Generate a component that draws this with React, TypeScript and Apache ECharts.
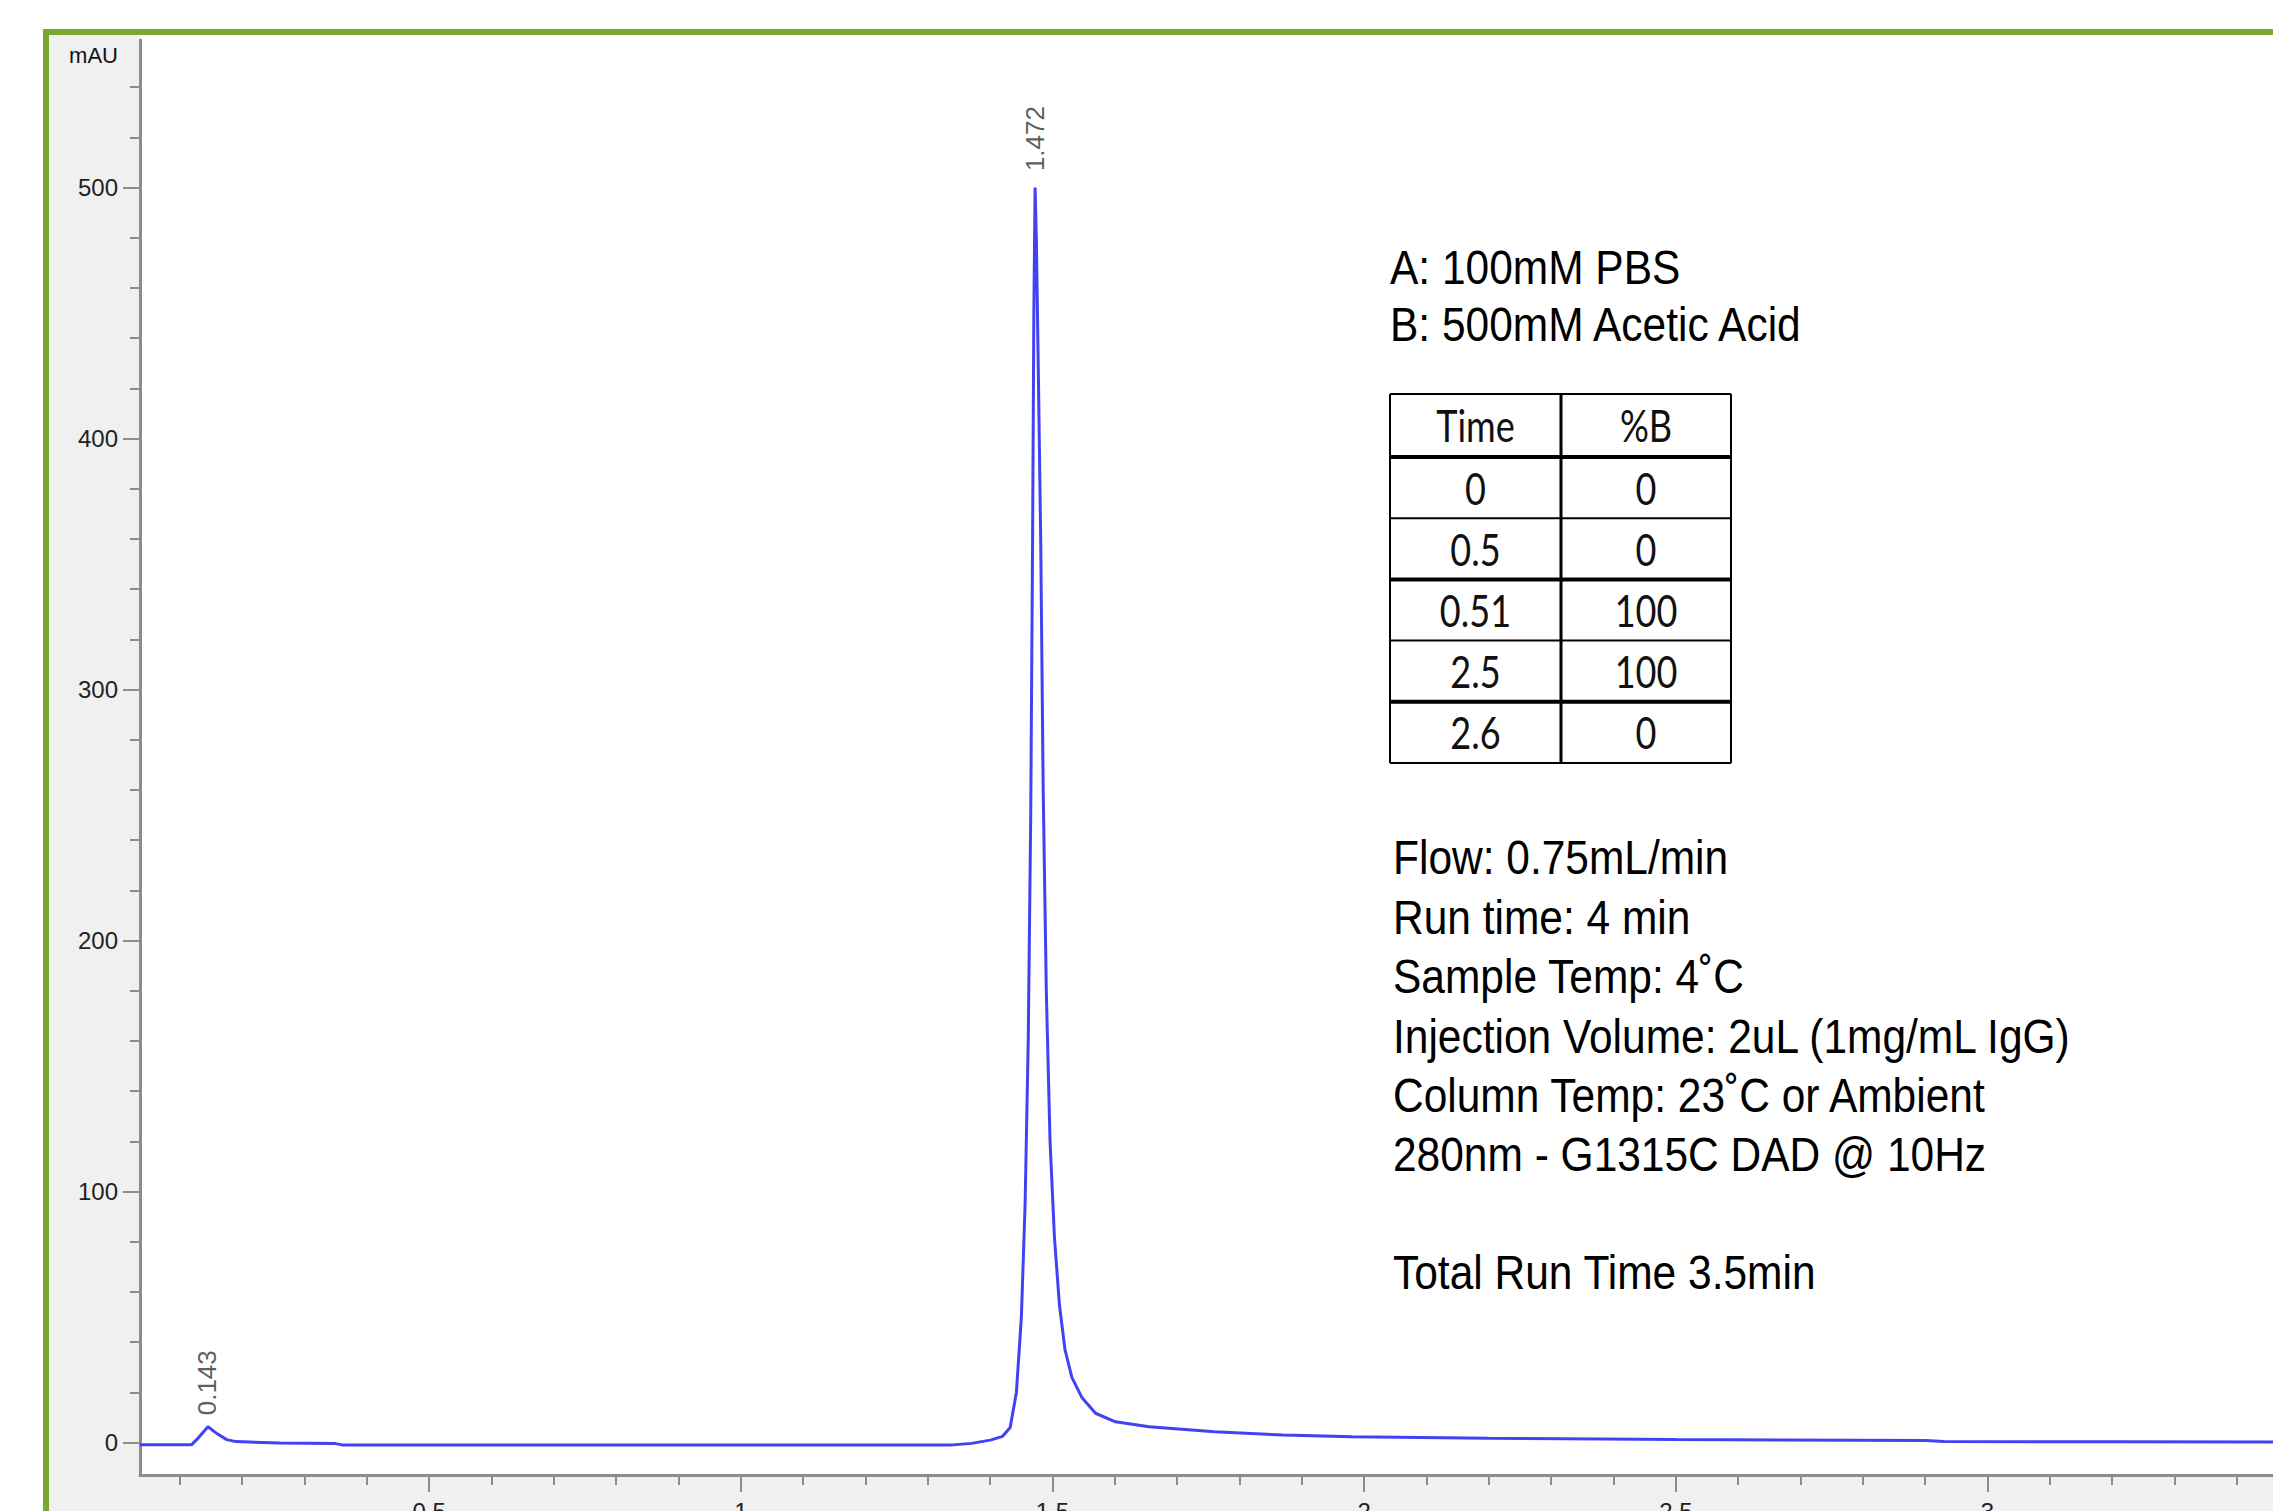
import React, { useEffect, useRef } from "react";
import * as echarts from "echarts";

// Chromatogram trace (time in min, absorbance in mAU)
const time = [
  0.036, 0.1, 0.119, 0.13, 0.145, 0.16, 0.175, 0.19, 0.26, 0.35, 0.36, 0.8, 1.2, 1.34, 1.37, 1.4, 1.42,
  1.432, 1.442, 1.45, 1.456, 1.461, 1.465, 1.468, 1.47, 1.472, 1.474, 1.477, 1.481, 1.485, 1.49, 1.496,
  1.503, 1.511, 1.52, 1.531, 1.547, 1.569, 1.601, 1.655, 1.76, 1.87, 1.98, 2.2, 2.5, 2.9, 2.93, 3.2, 3.458,
];
const absorbance = [
  -0.8, -0.8, -0.8, 2.0, 6.3, 3.5, 1.2, 0.4, -0.2, -0.4, -0.9, -0.9, -0.9, -0.9, -0.3, 1.0, 2.5,
  6, 20, 50, 95, 160, 250, 360, 450, 500, 480, 430, 360, 260, 180, 120,
  82, 55, 37, 26, 18, 11.7, 8.3, 6.3, 4.3, 3.0, 2.3, 1.7, 1.2, 0.8, 0.4, 0.3, 0.2,
];

// Peak annotations
const peakTimes = [0.143, 1.472];
const peakHeights = [6.3, 500];
const peakLabels = ["0.143", "1.472"];

// Axis ticks
const xMajorTicks = [0.5, 1, 1.5, 2, 2.5, 3];
const xTickLabels = ["0.5", "1", "1.5", "2", "2.5", "3"];
const xMinorTicks = [
  0.1, 0.2, 0.3, 0.4, 0.5, 0.6, 0.7, 0.8, 0.9, 1.0, 1.1, 1.2, 1.3, 1.4, 1.5, 1.6, 1.7,
  1.8, 1.9, 2.0, 2.1, 2.2, 2.3, 2.4, 2.5, 2.6, 2.7, 2.8, 2.9, 3.0, 3.1, 3.2, 3.3, 3.4,
];
const yMajorTicks = [0, 100, 200, 300, 400, 500];
const yMinorTicks = [
  0, 20, 40, 60, 80, 100, 120, 140, 160, 180, 200, 220, 240, 260, 280, 300, 320, 340, 360, 380,
  400, 420, 440, 460, 480, 500, 520, 540,
];

// Method annotations
const solventLines = ["A: 100mM PBS", "B: 500mM Acetic Acid"];
const gradientHeader = ["Time", "%B"];
const gradientTime = ["0", "0.5", "0.51", "2.5", "2.6"];
const gradientB = ["0", "0", "100", "100", "0"];
const methodLines = [
  "Flow: 0.75mL/min",
  "Run time: 4 min",
  "Sample Temp: 4˚C",
  "Injection Volume: 2uL (1mg/mL IgG)",
  "Column Temp: 23˚C or Ambient",
  "280nm - G1315C DAD @ 10Hz",
];
const totalRunLine = "Total Run Time 3.5min";

const SANS = "'Liberation Sans', Arial, sans-serif";
const TABLE_FONT = "Lato, 'Noto Sans', sans-serif";
const AXIS_GRAY = "#8c8c8c";

export default function App() {
  const ref = useRef<HTMLDivElement>(null);

  useEffect(() => {
    if (!ref.current) return;
    const chart = echarts.init(ref.current, undefined, { renderer: "svg" });

    const graphics: any[] = [];
    // background panel and plot area
    graphics.push({
      type: "rect",
      z: -10,
      shape: { x: 49, y: 35, width: 2300, height: 1500 },
      style: { fill: "#f0f0f0" },
      silent: true,
    });
    graphics.push({
      type: "rect",
      z: -9,
      shape: { x: 140, y: 35, width: 2200, height: 1440 },
      style: { fill: "#ffffff" },
      silent: true,
    });
    // green frame
    graphics.push({
      type: "rect",
      z: 50,
      shape: { x: 46, y: 32, width: 2400, height: 1600 },
      style: { fill: "none", stroke: "#7aa82a", lineWidth: 6 },
      silent: true,
    });

    const textX = 1390;
    const txtScale = 0.885;
    solventLines.forEach((s, i) => {
      graphics.push({
        type: "text",
        z: 20,
        x: textX,
        y: 268 + i * 57,
        scaleX: txtScale,
        style: {
          text: s,
          fontSize: 48,
          fontFamily: SANS,
          fill: "#000",
          align: "left",
          verticalAlign: "middle",
        },
      });
    });

    // gradient table
    const tLeft = 1390;
    const tMid = 1561;
    const tRight = 1731;
    const tTop = 394;
    const headerH = 63;
    const rowH = 61.2;
    const rowYs: number[] = [tTop, tTop + headerH];
    for (let i = 1; i <= gradientTime.length; i++) rowYs.push(tTop + headerH + i * rowH);
    const tBottom = rowYs[rowYs.length - 1];
    const thick = [1, 3, 5];
    rowYs.forEach((y, i) => {
      graphics.push({
        type: "line",
        z: 20,
        shape: { x1: tLeft, y1: y, x2: tRight, y2: y },
        style: { stroke: "#000", lineWidth: thick.includes(i) ? 4 : 2 },
      });
    });
    [tLeft, tMid, tRight].forEach((x, i) => {
      graphics.push({
        type: "line",
        z: 20,
        shape: { x1: x, y1: tTop, x2: x, y2: tBottom },
        style: { stroke: "#000", lineWidth: i === 1 ? 3 : 2 },
      });
    });
    const cellText = (text: string, cx: number, cy: number) => ({
      type: "text",
      z: 21,
      x: cx,
      y: cy,
      scaleX: 0.82,
      style: {
        text,
        fontSize: 44,
        fontFamily: TABLE_FONT,
        fill: "#111",
        align: "center",
        verticalAlign: "middle",
      },
    });
    const c1 = (tLeft + tMid) / 2;
    const c2 = (tMid + tRight) / 2;
    graphics.push(cellText(gradientHeader[0], c1, (rowYs[0] + rowYs[1]) / 2));
    graphics.push(cellText(gradientHeader[1], c2, (rowYs[0] + rowYs[1]) / 2));
    gradientTime.forEach((t, i) => {
      const cy = (rowYs[i + 1] + rowYs[i + 2]) / 2;
      graphics.push(cellText(t, c1, cy));
      graphics.push(cellText(gradientB[i], c2, cy));
    });

    methodLines.forEach((s, i) => {
      graphics.push({
        type: "text",
        z: 20,
        x: 1393,
        y: 858 + i * 59.4,
        scaleX: txtScale,
        style: {
          text: s,
          fontSize: 48,
          fontFamily: SANS,
          fill: "#000",
          align: "left",
          verticalAlign: "middle",
        },
      });
    });
    graphics.push({
      type: "text",
      z: 20,
      x: 1393,
      y: 1273,
      scaleX: txtScale,
      style: {
        text: totalRunLine,
        fontSize: 48,
        fontFamily: SANS,
        fill: "#000",
        align: "left",
        verticalAlign: "middle",
      },
    });

    const xMin = 0.036;
    const xMax = 3.458;
    const yMin = -12.9;
    const yMax = 558.8;

    const option: any = {
      animation: false,
      backgroundColor: "#ffffff",
      grid: {
        left: 140,
        right: 0,
        top: 40,
        bottom: 36,
        containLabel: false,
        outerBoundsMode: "none",
      },
      xAxis: [
        {
          type: "value",
          min: xMin,
          max: xMax,
          position: "bottom",
          axisLine: { show: true, onZero: false, lineStyle: { color: AXIS_GRAY, width: 3 } },
          axisTick: {
            show: true,
            customValues: xMinorTicks,
            length: 10,
            lineStyle: { color: AXIS_GRAY, width: 2 },
          },
          axisLabel: { show: false },
          splitLine: { show: false },
        },
        {
          type: "value",
          min: xMin,
          max: xMax,
          position: "bottom",
          axisLine: { show: false, onZero: false },
          axisTick: {
            show: true,
            customValues: xMajorTicks,
            length: 17,
            lineStyle: { color: AXIS_GRAY, width: 2 },
          },
          axisLabel: {
            show: true,
            customValues: xMajorTicks,
            formatter: (v: number) => xTickLabels[xMajorTicks.indexOf(v)] ?? String(v),
            fontSize: 24,
            fontFamily: SANS,
            color: "#222",
            margin: 24,
          },
          splitLine: { show: false },
        },
      ],
      yAxis: [
        {
          type: "value",
          min: yMin,
          max: yMax,
          position: "left",
          name: "mAU",
          nameLocation: "end",
          nameGap: -15,
          nameTextStyle: {
            fontSize: 22,
            fontFamily: SANS,
            color: "#111",
            align: "right",
            verticalAlign: "middle",
            padding: [0, 22, 0, 0],
          },
          axisLine: { show: true, onZero: false, lineStyle: { color: AXIS_GRAY, width: 3 } },
          axisTick: {
            show: true,
            customValues: yMinorTicks,
            length: 10,
            lineStyle: { color: AXIS_GRAY, width: 2 },
          },
          axisLabel: { show: false },
          splitLine: { show: false },
        },
        {
          type: "value",
          min: yMin,
          max: yMax,
          position: "left",
          axisLine: { show: false, onZero: false },
          axisTick: {
            show: true,
            customValues: yMajorTicks,
            length: 17,
            lineStyle: { color: AXIS_GRAY, width: 2 },
          },
          axisLabel: {
            show: true,
            customValues: yMajorTicks,
            fontSize: 24,
            fontFamily: SANS,
            color: "#222",
            margin: 22,
          },
          splitLine: { show: false },
        },
      ],
      series: [
        {
          type: "line",
          xAxisIndex: 0,
          yAxisIndex: 0,
          data: time.map((t, i) => [t, absorbance[i]]),
          showSymbol: false,
          symbol: "none",
          smooth: false,
          lineStyle: { color: "#4242f5", width: 3 },
          z: 5,
        },
        {
          type: "scatter",
          xAxisIndex: 0,
          yAxisIndex: 0,
          symbolSize: 1,
          itemStyle: { color: "rgba(0,0,0,0)" },
          data: peakTimes.map((t, i) => ({
            value: [t, peakHeights[i]],
            label: { distance: i === 0 ? 11 : 16 },
          })),
          label: {
            show: true,
            position: "top",
            rotate: 90,
            align: "left",
            verticalAlign: "middle",
            fontSize: 26,
            fontFamily: SANS,
            color: "#333",
            formatter: (p: any) => peakLabels[p.dataIndex],
          },
          z: 6,
        },
      ],
      graphic: graphics,
    };

    chart.setOption(option);
    return () => chart.dispose();
  }, []);

  return (
    <div
      ref={ref}
      style={{ position: "fixed", left: 0, top: 0, width: 2273, height: 1511, background: "#fff" }}
    />
  );
}
